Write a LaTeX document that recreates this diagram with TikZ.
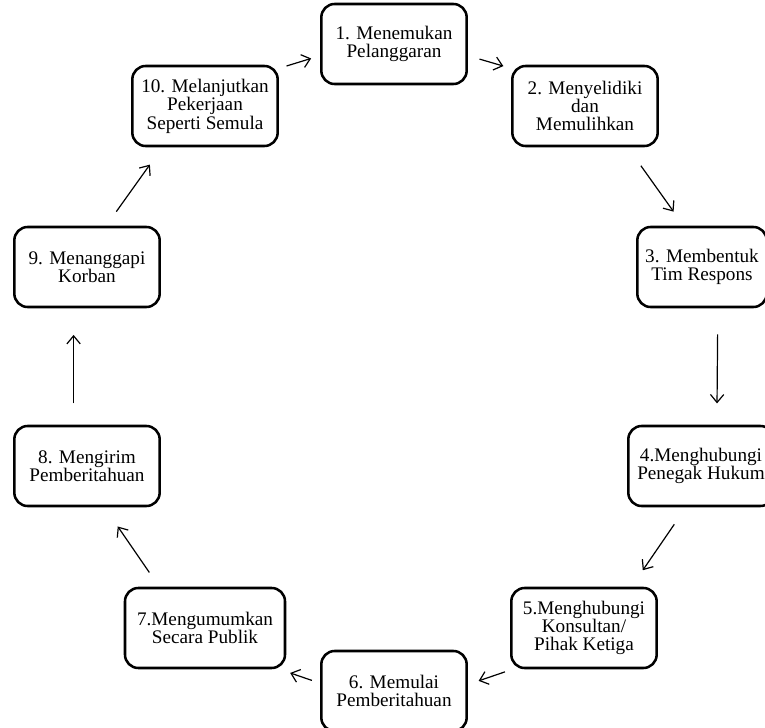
\documentclass[tikz,border=0pt]{standalone}
\usepackage{fontspec}
\setmainfont{Liberation Serif}
\usetikzlibrary{arrows.meta}

\begin{document}
\begin{tikzpicture}[
    x=0.75pt, y=-0.75pt,
    >={Straight Barb[length=6pt, width=10pt]},
    font=\fontsize{14.4}{13.8}\selectfont,
    langkah/.style={draw, rectangle, rounded corners=10pt,
                    minimum width=109pt, minimum height=60pt,
                    line width=1.9pt, align=center, inner sep=2pt},
    alur/.style={->, line width=0.9pt, black},
]
\useasboundingbox (0,0) rectangle (765,728);

% ============================================================
% STEPS (placed round a ring, explicit coordinates)
% ============================================================
\node[langkah] (l1)  at (394, 44) {1. Menemukan\\Pelanggaran};
\node[langkah] (l2)  at (585,106) {2. Menyelidiki\\dan\\Memulihkan};
\node[langkah, minimum width=97pt] (l3) at (702,267) {3. Membentuk\\Tim Respons};
\node[langkah] (l4)  at (701,466) {4.Menghubungi\\Penegak Hukum};
\node[langkah] (l5)  at (584,628) {5.Menghubungi\\Konsultan/\\Pihak Ketiga};
\node[langkah] (l6)  at (394,691) {6. Memulai\\Pemberitahuan};
\node[langkah, minimum width=120pt] (l7) at (205,628) {7.Mengumumkan\\Secara Publik};
\node[langkah] (l8)  at ( 87,466) {8. Mengirim\\Pemberitahuan};
\node[langkah] (l9)  at ( 87,267) {9. Menanggapi\\Korban};
\node[langkah] (l10) at (205,106) {10. Melanjutkan\\Pekerjaan\\Seperti Semula};

% ============================================================
% Flow arrows (clockwise, short, not touching the boxes)
% ============================================================
\draw[alur, shorten <=9pt,   shorten >=6pt]   (l1.351) -- (l2.153);
\draw[alur, shorten <=17pt,  shorten >=13pt]  (l2.316) -- (l3.114);
\draw[alur, shorten <=19.5pt, shorten >=16pt] (l3.291) -- (l4.69);
\draw[alur, shorten <=15.5pt, shorten >=15pt] (l4.250) -- (l5.41);
\draw[alur, shorten <=6pt,   shorten >=8.5pt] (l5.210) -- (l6.5);
\draw[alur, shorten <=6.5pt, shorten >=8.5pt] (l6.174) -- (l7.331);
\draw[alur, shorten <=13pt,  shorten >=17.5pt] (l7.138) -- (l8.293);
\draw[alur, shorten <=16pt,  shorten >=20pt]  (l8.108) -- (l9.252);
\draw[alur, shorten <=13pt,  shorten >=16pt]  (l9.65) -- (l10.224);
\draw[alur, shorten <=6pt,   shorten >=7pt]   (l10.27) -- (l1.189);

\end{tikzpicture}
\end{document}
